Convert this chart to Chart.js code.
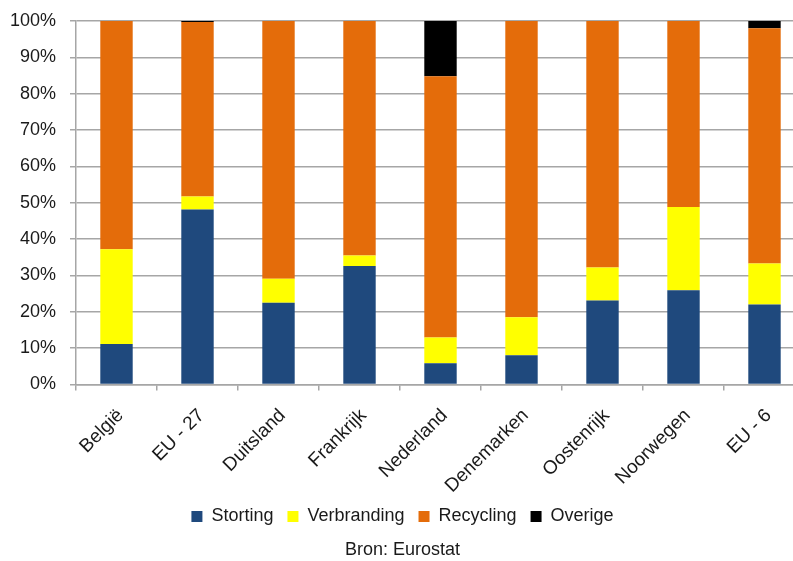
<!DOCTYPE html>
<html>
<head>
<meta charset="utf-8">
<script src="https://cdn.jsdelivr.net/npm/chart.js@4/dist/chart.umd.min.js"></script>
<style>
    html, body { margin: 0; padding: 0; background: #fff; overflow: hidden; }
    #wrap { width: 806px; height: 561px; position: relative; }
</style>
</head>
<body>
<div id="wrap"><canvas id="chart"></canvas></div>
<script>
// Landen / regio's
const landen = ['België', 'EU - 27', 'Duitsland', 'Frankrijk', 'Nederland', 'Denemarken', 'Oostenrijk', 'Noorwegen', 'EU - 6'];

// Aandeel per verwerkingswijze (%)
const storting    = [11.1, 48.1, 22.5, 32.6,  5.8,  8.0, 23.1, 25.9, 22.0];
const verbranding = [26.1,  3.6,  6.6,  2.9,  7.1, 10.5,  9.1, 22.9, 11.3];
const recycling   = [62.8, 48.0, 70.9, 64.5, 71.9, 81.5, 67.8, 51.2, 64.7];
const overige     = [ 0.0,  0.3,  0.0,  0.0, 15.2,  0.0,  0.0,  0.0,  2.0];

const yTicks = [0, 10, 20, 30, 40, 50, 60, 70, 80, 90, 100];

const FONT = "'Liberation Sans', Arial, sans-serif";
const TXT = '#1a1a1a';
const GRID = '#a6a6a6';

Chart.defaults.font.family = FONT;
Chart.defaults.font.size = 18;
Chart.defaults.color = TXT;

const ds = (label, data, color) => ({
    label: label,
    data: data,
    backgroundColor: color,
    borderWidth: 0,
    barPercentage: 0.4,
    categoryPercentage: 1.0
});

new Chart(document.getElementById('chart'), {
    type: 'bar',
    data: {
        labels: landen,
        datasets: [
            ds('Storting', storting, '#1F497D'),
            ds('Verbranding', verbranding, '#FFFF00'),
            ds('Recycling', recycling, '#E46C0A'),
            ds('Overige', overige, '#000000')
        ]
    },
    options: {
        responsive: true,
        maintainAspectRatio: false,
        animation: false,
        layout: { padding: { top: 21, right: 1, left: 0, bottom: 0 } },
        scales: {
            x: {
                stacked: true,
                offset: true,
                grid: {
                    offset: true,
                    drawOnChartArea: false,
                    drawTicks: true,
                    tickLength: 6,
                    color: GRID,
                    lineWidth: 1.5
                },
                border: { color: GRID, width: 1.5 },
                ticks: {
                    minRotation: 45,
                    maxRotation: 45,
                    padding: 14,
                    labelOffset: 4,
                    color: TXT,
                    font: { size: 19 }
                },
                afterFit(scale) {
                    scale.height = 109;
                    scale.paddingLeft = 0;
                    scale.paddingRight = 0;
                }
            },
            y: {
                stacked: true,
                min: 0,
                max: 100,
                grid: {
                    color: GRID,
                    lineWidth: 1.5,
                    tickLength: 6
                },
                border: { color: GRID, width: 1.5 },
                afterBuildTicks(scale) {
                    scale.ticks = yTicks.map(v => ({ value: v }));
                },
                ticks: {
                    padding: 14,
                    color: TXT,
                    font: { size: 18 },
                    callback: v => v + '%'
                },
                afterFit(scale) {
                    scale.width = 76;
                    scale.paddingTop = 0;
                    scale.paddingBottom = 0;
                }
            }
        },
        plugins: {
            legend: {
                position: 'bottom',
                labels: {
                    boxWidth: 11,
                    boxHeight: 11,
                    padding: 14,
                    color: TXT,
                    font: { size: 18 }
                }
            },
            title: {
                display: true,
                position: 'bottom',
                text: 'Bron: Eurostat',
                color: TXT,
                font: { size: 18, weight: 'normal' },
                padding: { top: 4, bottom: 0 }
            },
            tooltip: { enabled: false }
        }
    }
});
</script>
</body>
</html>
